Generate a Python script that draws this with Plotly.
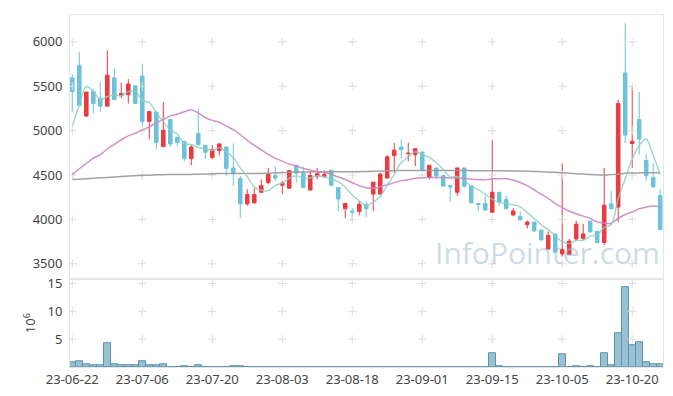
import pandas as pd
import plotly.graph_objects as go

# ---------------- data ----------------
holidays = ["2023-08-15", "2023-09-28", "2023-09-29", "2023-10-02", "2023-10-03", "2023-10-09"]
trading_days = [d for d in pd.bdate_range("2023-06-22", "2023-10-26")
                if d.strftime("%Y-%m-%d") not in holidays]
dates = [d.strftime("%y-%m-%d") for d in trading_days]

opens = [5595, 5735, 5165, 5440, 5365, 5275, 5595, 5395, 5405, 5505,
         5615, 5105, 5210, 4820, 5125, 4925, 4880, 4685, 4970, 4835,
         4695, 4775, 4815, 4580, 4460, 4175, 4185, 4305, 4415, 4495,
         4385, 4350, 4605, 4525, 4330, 4485, 4480, 4555, 4360, 4120,
         4095, 4090, 4170, 4285, 4285, 4465, 4720, 4815, 4740, 4730,
         4760, 4475, 4580, 4495, 4380, 4305, 4580, 4380, 4180, 4180,
         4080, 4305, 4225, 4050, 4035, 3940, 3970, 3880, 3665, 3835,
         3610, 3605, 3780, 3785, 3980, 3865, 3740, 4175, 4140, 5650,
         4855, 5125, 4665, 4470, 4270]
highs = [5635, 5890, 5435, 5470, 5550, 5905, 5700, 5540, 5580, 5505,
         5755, 5215, 5210, 5320, 5125, 4925, 4880, 4840, 5245, 4835,
         4840, 4860, 4815, 4855, 4490, 4340, 4355, 4450, 4580, 4600,
         4435, 4555, 4615, 4595, 4545, 4580, 4550, 4555, 4360, 4180,
         4130, 4205, 4205, 4420, 4525, 4725, 4865, 4900, 4865, 4805,
         4760, 4610, 4580, 4495, 4380, 4580, 4580, 4380, 4180, 4265,
         4895, 4305, 4265, 4130, 4090, 3990, 3970, 3880, 3865, 3835,
         4630, 3780, 3985, 3950, 3980, 3865, 4580, 4320, 5350, 6210,
         5500, 5435, 4740, 4630, 4340]
lows = [5210, 5285, 5155, 5195, 5210, 5275, 5350, 5365, 5305, 5305,
        5045, 4900, 4795, 4820, 4820, 4820, 4650, 4610, 4840, 4680,
        4685, 4720, 4490, 4380, 4015, 4155, 4185, 4305, 4395, 4435,
        4285, 4350, 4415, 4360, 4330, 4450, 4470, 4380, 4095, 4015,
        3980, 4045, 4025, 4095, 4285, 4465, 4525, 4680, 4655, 4600,
        4545, 4450, 4450, 4375, 4200, 4265, 4355, 4185, 4090, 4095,
        4080, 4150, 4120, 4035, 3995, 3895, 3860, 3755, 3665, 3630,
        3580, 3605, 3765, 3765, 3850, 3730, 3710, 4120, 3970, 4860,
        4580, 4730, 4435, 4350, 3885]
closes = [5440, 5285, 5435, 5305, 5275, 5625, 5350, 5420, 5525, 5305,
          5105, 5215, 4865, 5005, 4850, 4865, 4685, 4815, 4840, 4755,
          4785, 4850, 4575, 4520, 4175, 4280, 4280, 4380, 4505, 4465,
          4410, 4550, 4520, 4360, 4495, 4515, 4505, 4385, 4230, 4180,
          4080, 4170, 4120, 4420, 4510, 4705, 4780, 4785, 4745, 4795,
          4555, 4610, 4490, 4375, 4365, 4580, 4375, 4185, 4165, 4105,
          4305, 4195, 4120, 4095, 3995, 3970, 3870, 3770, 3820, 3630,
          3660, 3755, 3945, 3835, 3860, 3740, 4160, 4120, 5305, 4950,
          4880, 4905, 4490, 4370, 3885]
# closes of the 19 sessions before the first shown day (estimated from the MA lines)
prior_closes = [3955, 4245, 4125, 4455, 4365, 4310, 4400, 4625, 4725, 4365,
                4475, 3965, 4265, 4110, 4435, 4120, 4380, 5565, 5755]
# long moving average (grey line)
ma_long = [4448, 4453, 4458, 4463, 4468, 4473, 4478, 4484, 4489, 4492,
           4495, 4498, 4502, 4504, 4505, 4506, 4506, 4507, 4508, 4510,
           4513, 4516, 4517, 4518, 4518, 4517, 4517, 4518, 4521, 4524,
           4527, 4530, 4533, 4534, 4535, 4536, 4537, 4537, 4537, 4537,
           4537, 4538, 4540, 4542, 4545, 4548, 4550, 4551, 4552, 4552,
           4552, 4552, 4552, 4551, 4551, 4550, 4550, 4549, 4549, 4548,
           4548, 4548, 4547, 4546, 4544, 4542, 4540, 4537, 4533, 4530,
           4525, 4520, 4515, 4510, 4505, 4502, 4500, 4505, 4510, 4520,
           4522, 4524, 4525, 4526, 4526]
# volume in millions of shares
volume_m = [0.86, 1.04, 0.44, 0.26, 0.39, 4.22, 0.56, 0.39, 0.26, 0.26,
            1.04, 0.26, 0.26, 0.56, 0.02, 0.01, 0.18, 0.02, 0.35, 0.01,
            0.02, 0.01, 0.02, 0.18, 0.18, 0.02, 0.01, 0.02, 0.02, 0.01,
            0.02, 0.02, 0.01, 0.02, 0.02, 0.01, 0.02, 0.01, 0.02, 0.02,
            0.01, 0.02, 0.01, 0.02, 0.02, 0.03, 0.02, 0.02, 0.01, 0.02,
            0.02, 0.01, 0.02, 0.01, 0.02, 0.02, 0.01, 0.02, 0.01, 0.02,
            2.50, 0.18, 0.02, 0.02, 0.01, 0.02, 0.02, 0.02, 0.03, 0.02,
            2.28, 0.02, 0.18, 0.02, 0.18, 0.02, 2.45, 0.35, 6.03, 14.33,
            3.86, 4.45, 0.92, 0.56, 0.56]

price_ticks = [3500, 4000, 4500, 5000, 5500, 6000]
volume_ticks = [5, 10, 15]
x_tick_labels = dates[::10]
watermark = "InfoPointer.com"

# ---------------- derived ----------------
all_closes = pd.Series(prior_closes + closes)
ma5 = all_closes.rolling(5).mean().iloc[len(prior_closes):].tolist()
ma20 = all_closes.rolling(20).mean().iloc[len(prior_closes):].tolist()

RED = "#EC3A40"
BLUE = "#6CC3DA"
FONT = "Noto Sans"
TXT = "#444444"
BORDER = "#e6e6e6"

fig = go.Figure()

# grid crosses
gx = [x for x in x_tick_labels for _ in price_ticks]
gy = [y for _ in x_tick_labels for y in price_ticks]
fig.add_trace(go.Scatter(x=gx, y=gy, mode="markers", xaxis="x", yaxis="y",
                         marker=dict(symbol="cross-thin", size=6,
                                     line=dict(color="#dcdcdc", width=1)),
                         hoverinfo="skip", showlegend=False))
vx = [x for x in x_tick_labels for _ in volume_ticks]
vy = [y for _ in x_tick_labels for y in volume_ticks]
fig.add_trace(go.Scatter(x=vx, y=vy, mode="markers", xaxis="x2", yaxis="y2",
                         marker=dict(symbol="cross-thin", size=6,
                                     line=dict(color="#dcdcdc", width=1)),
                         hoverinfo="skip", showlegend=False))

fig.add_trace(go.Candlestick(
    x=dates, open=opens, high=highs, low=lows, close=closes,
    increasing=dict(line=dict(color=RED, width=1), fillcolor=RED),
    decreasing=dict(line=dict(color=BLUE, width=1), fillcolor=BLUE),
    whiskerwidth=0, xaxis="x", yaxis="y", showlegend=False))

fig.add_trace(go.Scatter(x=dates, y=ma_long, mode="lines", xaxis="x", yaxis="y",
                         line=dict(color="#999999", width=1.5, shape="spline"),
                         opacity=0.9, showlegend=False))
fig.add_trace(go.Scatter(x=dates, y=ma20, mode="lines", xaxis="x", yaxis="y",
                         line=dict(color="#CC88C2", width=1.5, shape="spline"),
                         opacity=0.9, showlegend=False))
fig.add_trace(go.Scatter(x=dates, y=ma5, mode="lines", xaxis="x", yaxis="y",
                         line=dict(color="#8CCFC0", width=1.4, shape="spline"),
                         opacity=0.85, showlegend=False))

fig.add_trace(go.Bar(x=dates, y=volume_m, xaxis="x2", yaxis="y2",
                     marker=dict(color="rgba(125,175,198,0.78)",
                                 line=dict(color="rgb(92,146,172)", width=1)),
                     showlegend=False))

xrange = [-0.33, len(dates) - 0.6]
common_x = dict(type="category", categoryorder="array", categoryarray=dates,
                range=xrange, showgrid=False, zeroline=False,
                showline=True, mirror=True, linecolor=BORDER, linewidth=1,
                tickmode="array", tickvals=x_tick_labels, ticktext=x_tick_labels,
                ticks="", tickangle=0,
                tickfont=dict(family=FONT, size=13, color=TXT))

# the page body has an 8px default margin; compensate so the plot area
# lands where the reference has it
fig.update_layout(
    width=665, height=388,
    margin=dict(l=62, r=10, t=2, b=29),
    paper_bgcolor="white", plot_bgcolor="white",
    bargap=0, boxgap=0.28,
    showlegend=False,
    font=dict(family=FONT, size=13, color=TXT),
    xaxis=dict(common_x, anchor="y", showticklabels=False,
               rangeslider=dict(visible=False)),
    xaxis2=dict(common_x, anchor="y2", matches="x", showticklabels=True,
                rangeslider=dict(visible=False)),
    yaxis=dict(domain=[0.2507, 1], anchor="x", range=[3331, 6303],
               tickmode="array", tickvals=price_ticks, showgrid=False,
               zeroline=False, showline=True, mirror=True, linecolor=BORDER,
               ticks="outside", ticklen=4, tickcolor="rgba(0,0,0,0)",
               tickfont=dict(family=FONT, size=13, color=TXT)),
    yaxis2=dict(domain=[0, 0.2493], anchor="x2", range=[0, 15.76],
                tickmode="array", tickvals=volume_ticks, showgrid=False,
                zeroline=False, showline=True, mirror=True, linecolor=BORDER,
                ticks="outside", ticklen=4, tickcolor="rgba(0,0,0,0)",
                tickfont=dict(family=FONT, size=13, color=TXT),
                title=dict(text="10<sup>6</sup>", standoff=8,
                           font=dict(family=FONT, size=13, color=TXT))),
    annotations=[dict(text=watermark, xref="paper", yref="paper",
                      x=0.612, y=0.325, xanchor="left", yanchor="middle",
                      showarrow=False,
                      font=dict(family="Open Sans", size=30,
                                color="rgba(150,185,210,0.5)"))],
)

fig.write_html("out.html")
